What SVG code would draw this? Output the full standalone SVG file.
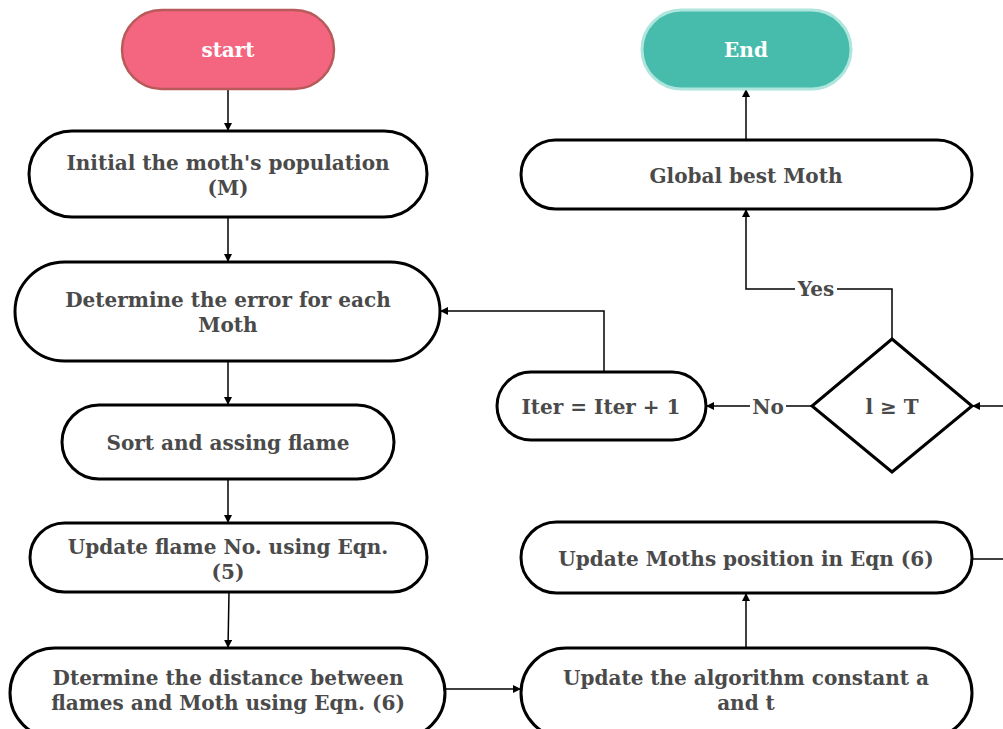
<svg xmlns="http://www.w3.org/2000/svg" width="1003" height="729" viewBox="0 0 1003 729">
<style>
.n{fill:#fff;stroke:#000;stroke-width:3}
.t{font-family:"DejaVu Serif",serif;font-weight:bold;font-size:20px;fill:#4a4a4a;text-anchor:middle;dominant-baseline:central}
.w{fill:#fff}
.c{fill:none;stroke:#000;stroke-width:1.5;marker-end:url(#a)}
</style>
<defs>
<marker id="a" viewBox="0 0 10 10" refX="10" refY="5" markerWidth="8" markerHeight="8" markerUnits="userSpaceOnUse" orient="auto">
<path d="M0,0 L10,5 L0,10 z" fill="#000"/>
</marker>
</defs>
<rect width="1003" height="729" fill="#fff"/>
<g id="connectors">
<path class="c" d="M228,89 V131"/>
<path class="c" d="M228,217 V262"/>
<path class="c" d="M228,361 V405"/>
<path class="c" d="M228,479 V523"/>
<path class="c" d="M229,592 L228,648"/>
<path class="c" d="M445,689 H521"/>
<path class="c" d="M746,648 V593"/>
<path class="c" d="M972,559 H1012 V406 H972"/>
<path class="c" d="M812,406 H706"/>
<path class="c" d="M604,372 V311 H440"/>
<path class="c" d="M892,339 V289 H746 V209"/>
<path class="c" d="M746,140 V89"/>
<rect class="w" x="795" y="279" width="42" height="20"/>
<text class="t" x="816" y="289">Yes</text>
<rect class="w" x="750" y="396" width="36" height="20"/>
<text class="t" x="768" y="407">No</text>
</g>
<g id="start">
<rect x="122" y="10" width="212" height="79" rx="39.5" fill="#f4657f" stroke="#b85a5a" stroke-width="2.5"/>
<text class="t" x="228" y="50" style="fill:#fff">start</text>
</g>
<g id="end">
<rect x="642" y="10" width="209" height="79" rx="39.5" fill="#48bcac" stroke="#aee5dc" stroke-width="3"/>
<text class="t" x="746" y="50" style="fill:#fff">End</text>
</g>
<g id="init">
<rect class="n" x="29" y="131" width="398" height="86" rx="43"/>
<text class="t" x="228" y="163">Initial the moth's population</text>
<text class="t" x="228" y="188">(M)</text>
</g>
<g id="error">
<rect class="n" x="15" y="262" width="425" height="99" rx="49.5"/>
<text class="t" x="228" y="300">Determine the error for each</text>
<text class="t" x="228" y="325">Moth</text>
</g>
<g id="sort">
<rect class="n" x="62" y="405" width="332" height="74" rx="37"/>
<text class="t" x="228" y="443">Sort and assing flame</text>
</g>
<g id="flame">
<rect class="n" x="30" y="523" width="397" height="69" rx="34.5"/>
<text class="t" x="228" y="547">Update flame No. using Eqn.</text>
<text class="t" x="228" y="572">(5)</text>
</g>
<g id="distance">
<rect class="n" x="10" y="648" width="435" height="90" rx="45"/>
<text class="t" x="228" y="678">Dtermine the distance between</text>
<text class="t" x="228" y="703">flames and Moth using Eqn. (6)</text>
</g>
<g id="constant">
<rect class="n" x="521" y="648" width="451" height="90" rx="45"/>
<text class="t" x="746" y="678">Update the algorithm constant a</text>
<text class="t" x="746" y="703">and t</text>
</g>
<g id="position">
<rect class="n" x="521" y="522" width="451" height="71" rx="35.5"/>
<text class="t" x="746" y="559">Update Moths position in Eqn (6)</text>
</g>
<g id="global">
<rect class="n" x="521" y="140" width="451" height="69" rx="34.5"/>
<text class="t" x="746" y="176">Global best Moth</text>
</g>
<g id="iter">
<rect class="n" x="497" y="372" width="209" height="68" rx="34"/>
<text class="t" x="601" y="407">Iter = Iter + 1</text>
</g>
<g id="decision">
<path class="n" d="M892,339 L972,406 L892,472 L812,406 Z"/>
<text class="t" x="892" y="407">l ≥ T</text>
</g>
</svg>
